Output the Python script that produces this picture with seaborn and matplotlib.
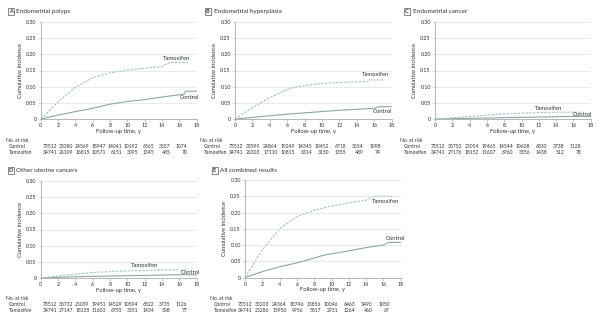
import matplotlib
matplotlib.use("Agg")
import matplotlib.pyplot as plt
from matplotlib.patches import Rectangle
import numpy as np
import pandas as pd
import seaborn as sns

sns.set_theme(style="white")
plt.rcParams["font.family"] = ["Lato", "DejaVu Sans"]

# ---------------- data ----------------
years_ticks = [0, 2, 4, 6, 8, 10, 12, 14, 16, 18]

titles = ["Endometrial polyps", "Endometrial hyperplasia", "Endometrial cancer",
          "Other uterine cancers", "All combined results"]
letters = ["A", "B", "C", "D", "E"]

A_tam_x = [0, 2, 4, 6, 8, 10, 12, 14, 14.3, 15, 17]
A_tam_y = [0, 0.053, 0.098, 0.128, 0.143, 0.151, 0.157, 0.162, 0.168, 0.175, 0.175]
A_ctl_x = [0, 2, 4, 6, 8, 10, 12, 14, 16, 16.6, 16.7, 18]
A_ctl_y = [0, 0.012, 0.023, 0.033, 0.046, 0.054, 0.060, 0.068, 0.075, 0.078, 0.086, 0.086]

B_tam_x = [0, 2, 4, 6, 7, 8, 10, 12, 14, 15.3, 15.4, 17]
B_tam_y = [0, 0.035, 0.066, 0.092, 0.099, 0.103, 0.110, 0.113, 0.115, 0.116, 0.121, 0.121]
B_ctl_x = [0, 2, 4, 6, 8, 10, 12, 14, 16, 16.5, 18]
B_ctl_y = [0, 0.005, 0.010, 0.015, 0.019, 0.023, 0.027, 0.030, 0.033, 0.038, 0.038]

C_tam_x = [0, 2, 4, 6, 8, 10, 12, 14, 16, 17]
C_tam_y = [0, 0.004, 0.008, 0.012, 0.016, 0.018, 0.020, 0.021, 0.021, 0.021]
C_ctl_x = [0, 2, 4, 6, 8, 10, 12, 14, 16, 18]
C_ctl_y = [0, 0.001, 0.002, 0.003, 0.004, 0.005, 0.006, 0.007, 0.008, 0.008]

D_tam_x = [0, 2, 4, 6, 8, 10, 12, 13.5, 16, 17]
D_tam_y = [0, 0.006, 0.012, 0.017, 0.020, 0.022, 0.023, 0.025, 0.025, 0.025]
D_ctl_x = [0, 2, 4, 6, 8, 10, 12, 14, 16, 18]
D_ctl_y = [0, 0.002, 0.004, 0.005, 0.006, 0.007, 0.008, 0.009, 0.010, 0.010]

E_tam_x = [0, 2, 4, 6, 8, 10, 12, 14, 14.5, 15, 17]
E_tam_y = [0, 0.085, 0.150, 0.187, 0.207, 0.220, 0.230, 0.238, 0.244, 0.250, 0.250]
E_ctl_x = [0, 2, 4, 6, 8, 9, 10, 12, 14, 16, 16.6, 18]
E_ctl_y = [0, 0.018, 0.033, 0.045, 0.060, 0.068, 0.073, 0.082, 0.092, 0.100, 0.108, 0.108]

A_risk_ctl = [73512, 33380, 24569, 18947, 14041, 10192, 6565, 3557, 1074]
A_risk_tam = [34741, 26109, 16815, 10571, 6151, 3095, 1345, 485, 70]
B_risk_ctl = [73512, 33599, 24864, 19249, 14345, 10452, 6718, 3654, 1098]
B_risk_tam = [34741, 26303, 17110, 10815, 6314, 3150, 1355, 489, 74]
C_risk_ctl = [73512, 33752, 25054, 19465, 14544, 10608, 6830, 3738, 1128]
C_risk_tam = [34741, 27176, 18152, 11607, 6760, 3356, 1438, 512, 78]
D_risk_ctl = [73512, 33732, 25039, 19451, 14529, 10594, 6822, 3735, 1126]
D_risk_tam = [34741, 27147, 18135, 11600, 6755, 3351, 1434, 508, 77]
E_risk_ctl = [73512, 33203, 24364, 18746, 13856, 10046, 6463, 3490, 1050]
E_risk_tam = [34741, 25286, 15950, 9956, 5817, 2931, 1264, 460, 67]

tam_label_pos = [(15.7, 0.186), (16.1, 0.137), (13.1, 0.031), (12.0, 0.038), (16.3, 0.233)]
ctl_label_pos = [(17.2, 0.066), (17.0, 0.024), (17.0, 0.013), (17.3, 0.016), (17.4, 0.121)]

curves = [
    (A_tam_x, A_tam_y, A_ctl_x, A_ctl_y, A_risk_ctl, A_risk_tam),
    (B_tam_x, B_tam_y, B_ctl_x, B_ctl_y, B_risk_ctl, B_risk_tam),
    (C_tam_x, C_tam_y, C_ctl_x, C_ctl_y, C_risk_ctl, C_risk_tam),
    (D_tam_x, D_tam_y, D_ctl_x, D_ctl_y, D_risk_ctl, D_risk_tam),
    (E_tam_x, E_tam_y, E_ctl_x, E_ctl_y, E_risk_ctl, E_risk_tam),
]

# ---------------- layout (pixels) ----------------
W, H = 600, 323
axes_px = [(40.7, 196.7, 22, 119), (235, 391.7, 22, 119), (435, 590.7, 22, 119),
           (40.7, 196.7, 181, 278), (245, 400.7, 180, 277.5)]
title_px = [(7.5, 11.5, 6), (204.5, 11.5, 200.5), (404, 11.5, 400.5),
            (7.5, 170.5, 6), (211.5, 170, 210.5)]
# right edge of first and last number in the at-risk table (pixels)
table_px = [(57, 187), (243, 381), (445, 581), (57, 187), (252, 390)]

TAM_COLOR = "#a6c3c5"
CTL_COLOR = "#8fa5a5"
TXT = "#333333"
AX_COLOR = "#9a9a9a"
S = 0.85
RISK_FS = 4.2 * S
LAB_FS = 5.0 * S
TICK_FS = 4.6 * S
TITLE_FS = 5.4 * S

fig = plt.figure(figsize=(6, 3.23), dpi=100)


def fxy(px, py):
    return px / W, 1 - py / H


for i in range(5):
    l, r, t, b = axes_px[i]
    ax = fig.add_axes([l / W, 1 - b / H, (r - l) / W, (b - t) / H])
    tx, ty, cx, cy, rc, rt = curves[i]
    df_t = pd.DataFrame({"x": tx, "y": ty})
    df_c = pd.DataFrame({"x": cx, "y": cy})
    sns.lineplot(data=df_c, x="x", y="y", ax=ax, color=CTL_COLOR, lw=0.8,
                 estimator=None, sort=False)
    sns.lineplot(data=df_t, x="x", y="y", ax=ax, color=TAM_COLOR, lw=0.8,
                 estimator=None, sort=False, linestyle=(0, (2.2, 1.2)))
    ax.set_xlim(0, 18)
    ax.set_ylim(0, 0.30)
    ax.set_xticks(years_ticks)
    ax.set_yticks([0, 0.05, 0.10, 0.15, 0.20, 0.25, 0.30])
    ax.set_yticklabels(["0", "0.05", "0.10", "0.15", "0.20", "0.25", "0.30"])
    for s in ["top", "right"]:
        ax.spines[s].set_visible(False)
    for s in ["left", "bottom"]:
        ax.spines[s].set_color(AX_COLOR)
        ax.spines[s].set_linewidth(0.5)
    ax.grid(axis="y", color="#e2e2e2", lw=0.5)
    ax.set_axisbelow(True)
    ax.tick_params(labelsize=TICK_FS, length=1.8, width=0.4, color=AX_COLOR,
                   labelcolor=TXT, pad=1.2, bottom=True, left=True)
    ax.set_xlabel("")
    ax.set_ylabel("Cumulative incidence", fontsize=LAB_FS, color=TXT, labelpad=2.5)

    ax.text(*tam_label_pos[i], "Tamoxifen", fontsize=LAB_FS, color=TXT, ha="center", va="center")
    ax.text(*ctl_label_pos[i], "Control", fontsize=LAB_FS, color=TXT, ha="center", va="center")

    fig.text((l + r) / 2 / W, 1 - (b + 12.5) / H, "Follow-up time, y", fontsize=LAB_FS,
             color=TXT, ha="center", va="center")

    bx, by, rx = title_px[i]
    x0, y0 = fxy(bx, by + 3.5)
    fig.patches.append(Rectangle((x0, y0), 6 / W, 7 / H, transform=fig.transFigure,
                                 fill=False, edgecolor="#555555", lw=0.5))
    fig.text((bx + 3) / W, 1 - by / H, letters[i], fontsize=4.0, color=TXT,
             ha="center", va="center", fontweight="bold")
    fig.text((bx + 9) / W, 1 - by / H, titles[i], fontsize=TITLE_FS, color=TXT,
             ha="left", va="center")

    fig.text(rx / W, 1 - (b + 21) / H, "No. at risk", fontsize=RISK_FS, color=TXT,
             ha="left", va="center")
    fig.text((rx + 3) / W, 1 - (b + 27) / H, "Control", fontsize=RISK_FS, color=TXT,
             ha="left", va="center")
    fig.text((rx + 3) / W, 1 - (b + 33) / H, "Tamoxifen", fontsize=RISK_FS, color=TXT,
             ha="left", va="center")
    x_first, x_last = table_px[i]
    xs = np.linspace(x_first, x_last, len(rc))
    for k in range(len(rc)):
        fig.text(xs[k] / W, 1 - (b + 27) / H, str(rc[k]), fontsize=RISK_FS,
                 color=TXT, ha="right", va="center")
        fig.text(xs[k] / W, 1 - (b + 33) / H, str(rt[k]), fontsize=RISK_FS,
                 color=TXT, ha="right", va="center")

fig.savefig("out.png", dpi=100, facecolor="white")
